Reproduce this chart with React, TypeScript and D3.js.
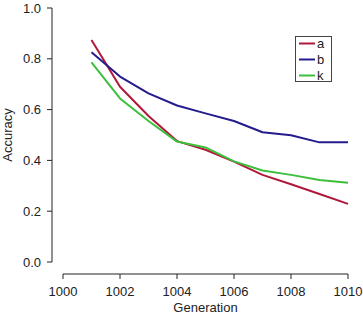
import React from "react";
import * as d3 from "d3";

const generations = [1001, 1002, 1003, 1004, 1005, 1006, 1007, 1008, 1009, 1010];
const seriesA = [0.874, 0.69, 0.575, 0.476, 0.442, 0.395, 0.343, 0.306, 0.268, 0.229];
const seriesB = [0.826, 0.73, 0.664, 0.616, 0.585, 0.555, 0.511, 0.499, 0.471, 0.471];
const seriesK = [0.786, 0.644, 0.555, 0.474, 0.451, 0.396, 0.36, 0.343, 0.323, 0.312];
const seriesNames = ["a", "b", "k"];
const seriesColors = ["#b0183a", "#241c8c", "#3cbf3c"];
const xTicks = [1000, 1002, 1004, 1006, 1008, 1010];
const yTicks = [0, 0.2, 0.4, 0.6, 0.8, 1.0];

const W = 363;
const H = 317;
const FONT = "'Liberation Sans', Arial, Helvetica, sans-serif";

export default function App() {
  const x = d3.scaleLinear().domain([1000, 1010]).range([63, 348]);
  const y = d3.scaleLinear().domain([0, 1]).range([262, 8]);
  const line = d3
    .line<[number, number]>()
    .x((d) => x(d[0]))
    .y((d) => y(d[1]));
  const all = [seriesA, seriesB, seriesK];
  const axisX = 52;
  const axisY = 274;

  return (
    <svg
      width={W}
      height={H}
      style={{ position: "absolute", left: 0, top: 0, background: "#fff" }}
      fontFamily={FONT}
    >
      <rect width={W} height={H} fill="#fff" />
      {all.map((vals, i) => (
        <path
          key={i}
          d={line(generations.map((g, j) => [g, vals[j]] as [number, number])) || ""}
          fill="none"
          stroke={seriesColors[i]}
          strokeWidth={2}
          strokeLinejoin="round"
        />
      ))}
      {/* y axis */}
      <line x1={axisX} x2={axisX} y1={y(0)} y2={y(1)} stroke="#222" strokeWidth={1} />
      {yTicks.map((t) => (
        <g key={t}>
          <line x1={axisX - 5} x2={axisX} y1={y(t)} y2={y(t)} stroke="#222" />
          <text
            x={41}
            y={y(t)}
            dy="0.35em"
            textAnchor="end"
            fontSize={13}
            fill="#222"
          >
            {t.toFixed(1)}
          </text>
        </g>
      ))}
      {/* x axis */}
      <line x1={x(1000)} x2={x(1010)} y1={axisY} y2={axisY} stroke="#222" />
      {xTicks.map((t) => (
        <g key={t}>
          <line x1={x(t)} x2={x(t)} y1={axisY} y2={axisY + 5} stroke="#222" />
          <text x={x(t)} y={296} textAnchor="middle" fontSize={13} fill="#222">
            {t}
          </text>
        </g>
      ))}
      <text x={205.5} y={312} textAnchor="middle" fontSize={13} fill="#222">
        Generation
      </text>
      <text
        transform={`translate(12, ${(y(0) + y(1)) / 2}) rotate(-90)`}
        textAnchor="middle"
        fontSize={13}
        fill="#222"
      >
        Accuracy
      </text>
      {/* legend */}
      <rect x={295.5} y={36.5} width={36} height={45} fill="#fff" stroke="#444" />
      {seriesNames.map((n, i) => (
        <g key={n}>
          <line
            x1={299}
            x2={315}
            y1={43.5 + i * 16}
            y2={43.5 + i * 16}
            stroke={seriesColors[i]}
            strokeWidth={2}
          />
          <text x={317} y={43.5 + i * 16} dy="0.35em" fontSize={13} fill="#222">
            {n}
          </text>
        </g>
      ))}
    </svg>
  );
}
